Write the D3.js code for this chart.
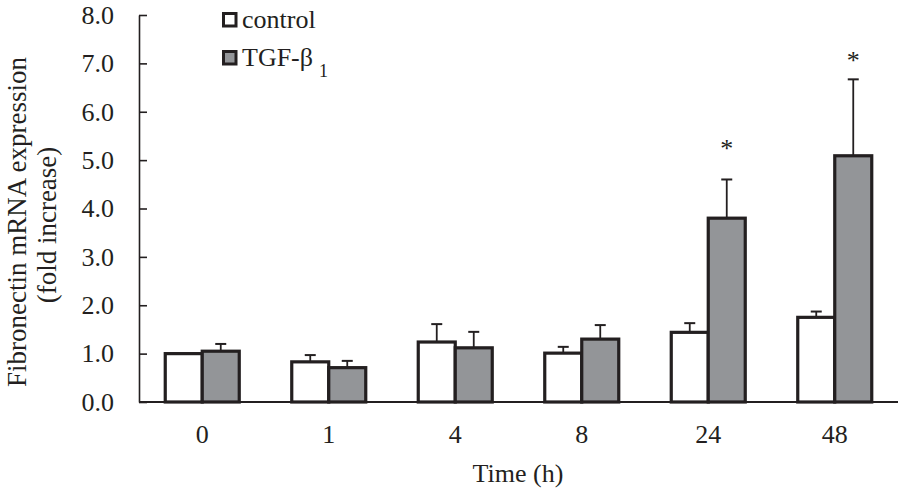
<!DOCTYPE html>
<html><head><meta charset="utf-8">
<script src="https://cdn.jsdelivr.net/npm/d3@7"></script>
<style>body{margin:0;background:#fff}svg{display:block}text{font-family:"Liberation Serif","Times New Roman",serif;fill:#231f20}</style>
</head><body>
<svg id="c" width="904" height="492"></svg>
<script>
const categories = ["0","1","4","8","24","48"];
const seriesNames = ["control","TGF-β"];
const control = [1.00, 0.83, 1.24, 1.01, 1.44, 1.75];
const controlErr = [0.00, 0.14, 0.37, 0.13, 0.19, 0.12];
const tgf = [1.05, 0.71, 1.12, 1.30, 3.80, 5.09];
const tgfErr = [0.15, 0.14, 0.33, 0.29, 0.80, 1.58];
const starAt = [null, null, null, null, 5.35, 7.17];
const yTicks = [0,1,2,3,4,5,6,7,8];

const ink = "#231f20", gray = "#939598";
const svg = d3.select("#c");
const x0 = 139, x1 = 898, yBottom = 402, yTop = 15;
const y = d3.scaleLinear().domain([0, 8]).range([yBottom, yTop]);
const x = d3.scaleBand().domain(categories).range([x0, x1]).paddingInner(0.415).paddingOuter(0.2075);
const xs = d3.scaleBand().domain(seriesNames).range([0, x.bandwidth()]);

// y axis
const yAxis = svg.append("g").attr("transform", `translate(${x0},0)`)
  .call(d3.axisLeft(y).tickValues(yTicks).tickFormat(d3.format(".1f")).tickSizeInner(-8).tickSizeOuter(0).tickPadding(25));
yAxis.select(".domain").attr("stroke", ink).attr("stroke-width", 1.6);
yAxis.selectAll(".tick line").attr("stroke", ink).attr("stroke-width", 1.6);
yAxis.selectAll(".tick text").attr("font-size", 26).attr("fill", ink).style("font-family", '"Liberation Serif",serif');

// bars
const data = categories.map((c, i) => ({c, vals: [
  {s: seriesNames[0], v: control[i], e: controlErr[i], fill: "#fff"},
  {s: seriesNames[1], v: tgf[i], e: tgfErr[i], fill: gray}
]}));
const g = svg.selectAll("g.grp").data(data).join("g").attr("class", "grp")
  .attr("transform", d => `translate(${x(d.c)},0)`);
// error bars
g.selectAll("g.err").data(d => d.vals.filter(v => v.e > 0)).join("g").attr("class", "err").each(function(d) {
  const cx = xs(d.s) + xs.bandwidth() / 2;
  const sel = d3.select(this);
  sel.append("line").attr("x1", cx).attr("x2", cx).attr("y1", y(d.v)).attr("y2", y(d.v + d.e))
    .attr("stroke", ink).attr("stroke-width", 1.8);
  sel.append("line").attr("x1", cx - 5.5).attr("x2", cx + 5.5).attr("y1", y(d.v + d.e)).attr("y2", y(d.v + d.e))
    .attr("stroke", ink).attr("stroke-width", 2);
});
g.selectAll("rect").data(d => d.vals).join("rect")
  .attr("x", d => xs(d.s)).attr("width", xs.bandwidth())
  .attr("y", d => y(d.v)).attr("height", d => y(0) - y(d.v))
  .attr("fill", d => d.fill).attr("stroke", ink).attr("stroke-width", 3.2);

// x axis
svg.append("line").attr("x1", x0).attr("x2", x1).attr("y1", yBottom).attr("y2", yBottom)
  .attr("stroke", ink).attr("stroke-width", 2);
svg.selectAll("text.xl").data(categories).join("text").attr("class", "xl")
  .attr("x", d => x(d) + x.bandwidth() / 2).attr("y", 443)
  .attr("text-anchor", "middle").attr("font-size", 26).text(d => d);

// stars
svg.selectAll("text.star").data(categories.map((c, i) => ({c, s: starAt[i]})).filter(d => d.s != null))
  .join("text").attr("class", "star")
  .attr("x", d => x(d.c) + xs(seriesNames[1]) + xs.bandwidth() / 2)
  .attr("y", d => y(d.s) + 13.5).attr("text-anchor", "middle").attr("font-size", 26).text("*");

// axis titles
svg.append("text").attr("x", 518).attr("y", 482).attr("text-anchor", "middle").attr("font-size", 26).text("Time (h)");
svg.append("text").attr("transform", "translate(26,222) rotate(-90)").attr("text-anchor", "middle")
  .attr("font-size", 27).text("Fibronectin mRNA expression");
svg.append("text").attr("transform", "translate(56,225) rotate(-90)").attr("text-anchor", "middle")
  .attr("font-size", 27).text("(fold increase)");

// legend
const leg = svg.append("g");
const legItems = [{name: seriesNames[0], fill: "#fff", yy: 20}, {name: seriesNames[1], fill: gray, yy: 58}];
legItems.forEach((it, i) => {
  leg.append("rect").attr("x", 223.5).attr("y", it.yy - 6.5).attr("width", 12.5).attr("height", 12.5)
    .attr("fill", it.fill).attr("stroke", ink).attr("stroke-width", 3);
  const t = leg.append("text").attr("x", 242).attr("y", it.yy + 8).attr("font-size", 26).text(it.name);
  if (i === 1) t.append("tspan").attr("dx", 6).attr("dy", 11).attr("font-size", 18).text("1");
});
</script>
</body></html>
